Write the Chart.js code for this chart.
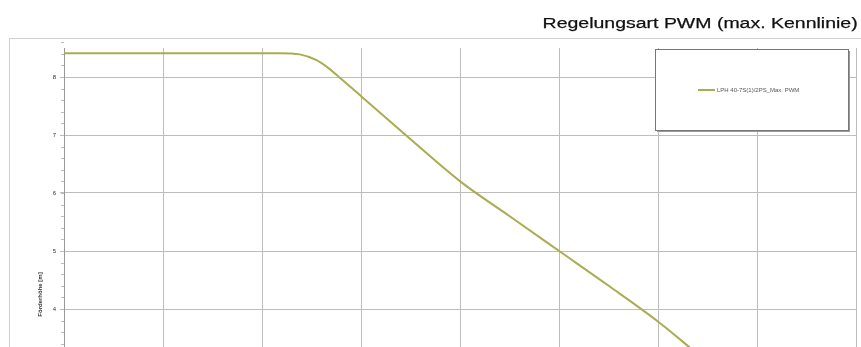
<!DOCTYPE html>
<html>
<head>
<meta charset="utf-8">
<script src="https://cdn.jsdelivr.net/npm/chart.js@4"></script>
<style>
  html, body { margin: 0; padding: 0; background: #fff; overflow: hidden; width: 861px; height: 347px; }
  #wrap { position: relative; width: 861px; height: 580px; }
  #title {
    position: absolute; right: 3px; top: 14px;
    font-family: "Liberation Sans", Arial, sans-serif; font-size: 15.5px; line-height: 18px;
    color: #111; white-space: nowrap; -webkit-text-stroke: 0.25px #111;
    transform: scaleX(1.257); transform-origin: right center;
  }
</style>
</head>
<body>
<div id="wrap">
  <canvas id="chart" width="861" height="580"></canvas>
  <div id="title">Regelungsart PWM (max. Kennlinie)</div>
</div>
<script>
// pump curve (flow vs head)
const flowValues = [0, 1, 2, 2.18, 2.38, 2.55, 2.68, 2.77, 3.0, 3.45, 4.0, 4.5, 5.0, 5.5, 6.0, 6.28, 6.5];
const headValues = [8.41, 8.41, 8.41, 8.41, 8.39, 8.29, 8.14, 8.01, 7.67, 7.0, 6.2, 5.6, 5.0, 4.4, 3.78, 3.39, 3.07];

const SERIES_LABEL = "LPH 40-7S(1)/2PS_Max. PWM";
const X_TITLE = "Förderstrom [m³/h]";
const Y_TITLE = "Förderhöhe [m]";
const X_MIN = 0, X_MAX = 8, X_STEP = 1;
const Y_MIN = 0, Y_MAX = 8.5, Y_STEP = 1, Y_MINOR_STEP = 0.2;

const LINE_COLOR = "#a9ad50";
const GRID_COLOR = "#bdbdbd";

// outer chart frame, like the spreadsheet chart border
const framePlugin = {
  id: "frame",
  beforeDraw(chart) {
    const ctx = chart.ctx;
    ctx.save();
    ctx.fillStyle = "#fff";
    ctx.fillRect(0, 0, chart.width, chart.height);
    ctx.strokeStyle = "#d0d0d0";
    ctx.lineWidth = 1;
    ctx.strokeRect(9.5, 38.5, chart.width + 20, chart.height);
    ctx.restore();
  }
};

// small minor tick marks on the y axis
const minorTickPlugin = {
  id: "minorTicks",
  afterDraw(chart) {
    const y = chart.scales.y;
    const ctx = chart.ctx;
    const left = chart.chartArea.left;
    ctx.save();
    ctx.strokeStyle = "#bbb";
    ctx.lineWidth = 1;
    const n = Math.round((Y_MAX - Y_MIN) / Y_MINOR_STEP);
    for (let i = 0; i <= n; i++) {
      const py = Math.round(y.getPixelForValue(Y_MIN + i * Y_MINOR_STEP)) + 0.5;
      ctx.beginPath();
      ctx.moveTo(left - 3, py);
      ctx.lineTo(left, py);
      ctx.stroke();
    }
    ctx.restore();
  }
};

// boxed legend with drop shadow, top right inside plot
const legendBoxPlugin = {
  id: "legendBox",
  afterDraw(chart) {
    const ctx = chart.ctx;
    const ds = chart.data.datasets[0];
    const bx = 655, by = 49, bw = 193, bh = 81;
    ctx.save();
    ctx.fillStyle = "#9a9a9a";
    ctx.fillRect(bx + 2, by + 2, bw, bh);
    ctx.fillStyle = "#fff";
    ctx.fillRect(bx, by, bw, bh);
    ctx.strokeStyle = "#777";
    ctx.lineWidth = 1;
    ctx.strokeRect(bx + 0.5, by + 0.5, bw, bh);
    ctx.strokeStyle = ds.borderColor;
    ctx.lineWidth = 2;
    ctx.beginPath();
    ctx.moveTo(698, 90);
    ctx.lineTo(715, 90);
    ctx.stroke();
    ctx.fillStyle = "#555";
    ctx.font = "6px 'Liberation Sans', Arial, sans-serif";
    ctx.textBaseline = "middle";
    ctx.fillText(ds.label, 717, 90);
    ctx.restore();
  }
};

new Chart(document.getElementById("chart"), {
  type: "scatter",
  data: {
    datasets: [{
      label: SERIES_LABEL,
      data: flowValues.map((x, i) => ({ x, y: headValues[i] })),
      showLine: true,
      borderColor: LINE_COLOR,
      borderWidth: 2,
      pointRadius: 0,
      cubicInterpolationMode: "monotone",
      fill: false
    }]
  },
  options: {
    responsive: false,
    animation: false,
    devicePixelRatio: 1,
    layout: { padding: { top: 48, right: 4, bottom: 9, left: 0 } },
    plugins: {
      legend: { display: false },
      tooltip: { enabled: false },
      title: { display: false }
    },
    scales: {
      x: {
        type: "linear", min: X_MIN, max: X_MAX,
        ticks: { stepSize: X_STEP, font: { size: 6 }, color: "#333" },
        grid: { color: GRID_COLOR, tickLength: 4 },
        border: { color: "#999" },
        title: { display: true, text: X_TITLE, font: { size: 6, weight: "bold" }, color: "#333" },
        afterFit: s => { s.height = 30; }
      },
      y: {
        type: "linear", min: Y_MIN, max: Y_MAX,
        ticks: { stepSize: Y_STEP, includeBounds: false, font: { size: 6 }, color: "#333", padding: 4 },
        grid: { color: GRID_COLOR, tickLength: 4 },
        border: { color: "#999" },
        title: { display: true, text: Y_TITLE, font: { size: 6, weight: "bold" }, color: "#333", padding: { top: 37, bottom: 0 } },
        afterFit: s => { s.width = 64; }
      }
    }
  },
  plugins: [framePlugin, minorTickPlugin, legendBoxPlugin]
});
</script>
</body>
</html>
